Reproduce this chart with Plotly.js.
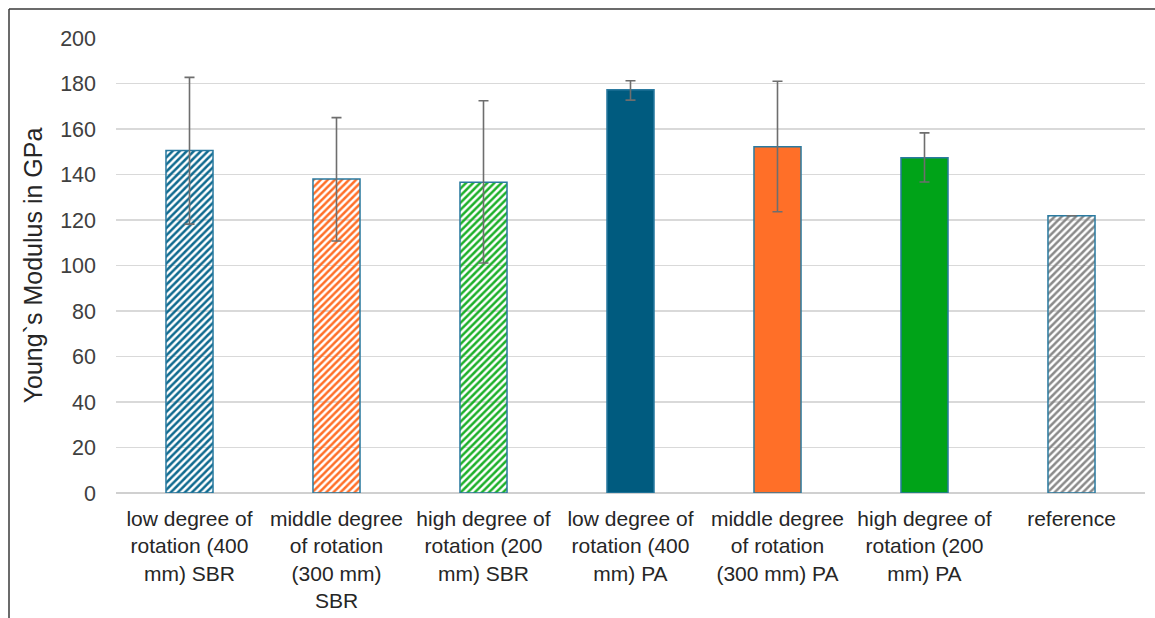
<!DOCTYPE html>
<html>
<head>
<meta charset="utf-8">
<script src="https://cdn.plot.ly/plotly-3.0.1.min.js"></script>
<style>html,body{margin:0;padding:0;background:#fff;}#chart{width:1155px;height:618px;}</style>
</head>
<body>
<div id="chart"></div>
<script>
const categories = [
  "low degree of<br>rotation (400<br>mm) SBR",
  "middle degree<br>of rotation<br>(300 mm)<br>SBR",
  "high degree of<br>rotation (200<br>mm) SBR",
  "low degree of<br>rotation (400<br>mm) PA",
  "middle degree<br>of rotation<br>(300 mm) PA",
  "high degree of<br>rotation (200<br>mm) PA",
  "reference"
];
const youngsModulus = [150.5, 138.0, 136.6, 177.2, 152.2, 147.4, 121.9];
const errPlus  = [32.2, 27.0, 35.8, 4.0, 28.8, 10.9, null];
const errMinus = [32.3, 27.2, 35.5, 4.5, 28.6, 10.7, null];
const barColors = ["#0F6A8F", "#FF6F28", "#1DB02A", "#005B7F", "#FF6F28", "#00A318", "#8A8A8A"];
const patternShapes = ["/", "/", "/", "", "", "", "/"];
const yTicks = [0, 20, 40, 60, 80, 100, 120, 140, 160, 180, 200];

const W = 1155, H = 618;
const L = 116, R = 10, T = 38, B = 125;
const pw = W - L - R, ph = H - T - B;
const px = x => (x - L) / pw;
const py = y => (H - B - y) / ph;

const trace = {
  type: "bar",
  x: categories,
  y: youngsModulus,
  marker: {
    color: barColors,
    line: {color: "#2A7AA0", width: 1.5},
    pattern: {
      shape: patternShapes,
      fgcolor: barColors,
      bgcolor: "#ffffff",
      fillmode: "replace",
      size: 5,
      solidity: 0.5
    }
  },
  error_y: {
    type: "data",
    symmetric: false,
    array: errPlus,
    arrayminus: errMinus,
    color: "#6E6E6E",
    thickness: 1.6,
    width: 5
  },
  hoverinfo: "x+y"
};

const layout = {
  width: W, height: H,
  margin: {l: L, r: R, t: T, b: B, pad: 0},
  paper_bgcolor: "#ffffff",
  plot_bgcolor: "#ffffff",
  font: {family: "Liberation Sans, Arial, sans-serif", color: "#262626", size: 21},
  bargap: 0.68,
  showlegend: false,
  xaxis: {
    type: "category",
    showgrid: false,
    zeroline: false,
    showline: false,
    ticks: "",
    tickfont: {size: 21, color: "#262626"},
    tickangle: 0,
    ticklabelstandoff: 11,
    automargin: false
  },
  yaxis: {
    range: [0, 200],
    tickvals: yTicks,
    ticktext: yTicks.map(String),
    showgrid: true,
    gridcolor: "#D9D9D9",
    gridwidth: 1.6,
    zeroline: true,
    zerolinecolor: "#D0D0D0",
    zerolinewidth: 1.6,
    showline: false,
    ticks: "",
    tickfont: {size: 21.5, color: "#404040"},
    ticklabelstandoff: 19,
    automargin: false,
    title: {text: "Young`s Modulus in GPa", font: {size: 25, color: "#262626"}, standoff: 10}
  },
  shapes: [
    {type: "line", xref: "paper", yref: "paper", x0: px(9), x1: px(9), y0: py(9), y1: py(H), line: {color: "#3A3A3A", width: 1.5}},
    {type: "line", xref: "paper", yref: "paper", x0: px(9), x1: px(W), y0: py(9), y1: py(9), line: {color: "#3A3A3A", width: 1.5}}
  ]
};

Plotly.newPlot("chart", [trace], layout, {displayModeBar: false, staticPlot: true});
</script>
</body>
</html>
